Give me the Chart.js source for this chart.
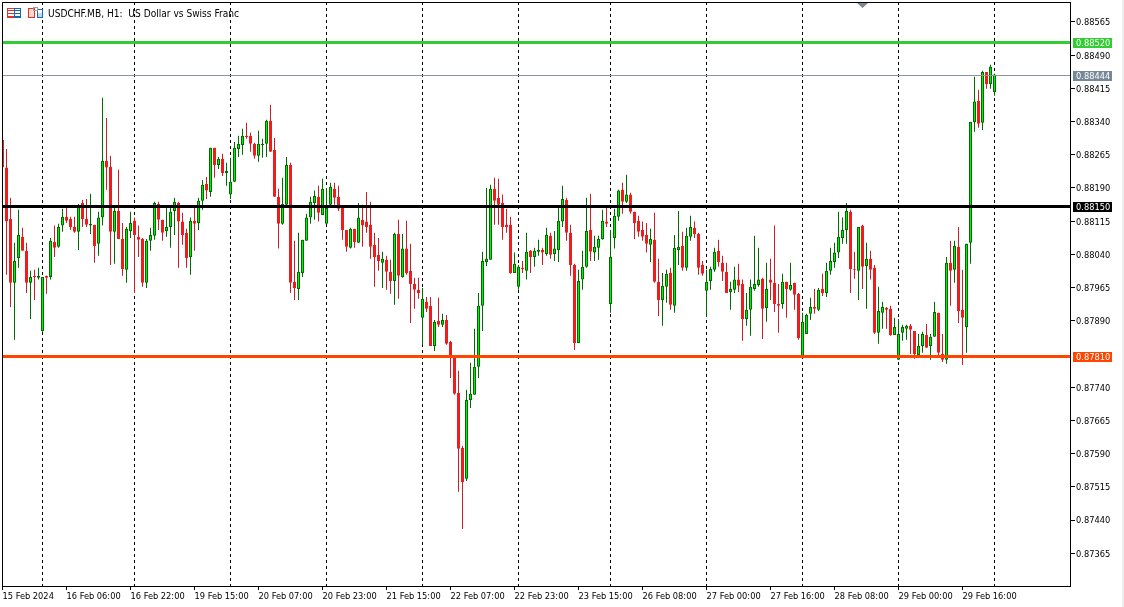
<!DOCTYPE html>
<html>
<head>
<meta charset="utf-8">
<title>USDCHF.MB H1</title>
<script src="https://cdn.jsdelivr.net/npm/chart.js@4"></script>
<style>
  html, body { margin: 0; padding: 0; background: #fff; }
  canvas { display: block; }
</style>
</head>
<body>
<canvas id="chart-1" width="1124" height="607"></canvas>
<script>
// prices are in points (price x 100000), one entry per H1 bar
const opens = [
  88299,88236,88120,87976,88032,88080,88048,87976,87992,87987,87867,87992,
  87989,88068,88057,88105,88125,88120,88102,88091,88156,88120,88105,88107,
  88064,88123,88251,88238,88091,88138,88075,88005,88093,88116,88080,88075,
  87976,88071,88082,88154,88118,88093,88102,88138,88156,88114,88089,88034,
  88116,88111,88161,88199,88181,88281,88242,88256,88224,88175,88204,88278,
  88287,88308,88308,88290,88263,88287,88290,88342,88276,88170,88109,88152,
  88242,87978,87962,87998,88071,88123,88156,88170,88129,88109,88152,88188,
  88170,88145,88095,88055,88098,88066,88118,88114,88107,88062,88039,88021,
  88028,88001,87980,88086,87989,88053,88003,87973,87960,87897,87933,87924,
  87833,87890,87881,87892,87842,87811,87727,87603,87533,87711,87723,87786,
  87924,88023,88028,88188,88168,88156,88107,88107,87998,87967,88010,88003,
  88048,88034,88046,88050,88041,88082,88041,88050,88114,88163,88089,88016,
  87840,87983,88012,88095,88044,88055,88075,88114,87928,88077,88125,88186,
  88159,88175,88136,88116,88095,88084,88062,88073,87978,87937,87967,87998,
  87924,88050,88059,88010,88080,88100,88086,88016,87958,87980,88005,88048,
  88021,88001,87955,87960,87983,87973,87894,87915,87962,87971,87985,87919,
  87983,87976,87928,87928,87978,87960,87976,87951,87811,87860,87906,87921,
  87915,87962,87953,88003,88023,88044,88077,88095,88136,88007,88003,88105,
  88014,88030,88010,87863,87908,87919,87917,87858,87802,87863,87872,87879,
  87867,87813,87833,87858,87833,87854,87908,87815,87802,88021,88005,88057,
  87915,87876,88066,88339,88387,88337,88452,88425,88407
];
const highs = [
  88299,88278,88168,88066,88141,88100,88066,88003,88005,88010,87989,87992,
  88077,88105,88109,88143,88145,88125,88125,88154,88163,88165,88177,88107,
  88136,88394,88348,88263,88147,88231,88111,88102,88136,88123,88105,88077,
  88075,88100,88159,88159,88118,88145,88147,88168,88159,88134,88098,88123,
  88147,88168,88208,88215,88281,88281,88260,88267,88247,88258,88294,88308,
  88324,88337,88315,88292,88319,88301,88344,88378,88303,88188,88213,88260,
  88247,88071,88089,88073,88132,88170,88184,88195,88211,88190,88202,88202,
  88195,88145,88095,88100,88098,88156,88152,88181,88159,88089,88077,88046,
  88037,88028,88089,88118,88086,88116,88064,87987,87987,87964,87944,87944,
  87892,87942,87906,87903,87845,87811,87777,87608,87734,87795,87872,87953,
  88046,88190,88197,88213,88211,88175,88143,88125,88044,88016,88025,88089,
  88050,88055,88073,88055,88100,88089,88093,88147,88195,88168,88107,88019,
  88005,88048,88168,88177,88082,88082,88141,88145,88095,88143,88186,88202,
  88220,88179,88136,88127,88114,88111,88098,88134,88030,87998,88005,88010,
  88084,88138,88091,88100,88127,88114,88089,88025,88005,88012,88055,88073,
  88037,88021,87978,88012,88019,87983,87953,87983,88082,88055,87987,88021,
  88030,88105,87973,87996,87978,88021,87976,87953,87908,87906,87942,87962,
  87964,87996,88021,88055,88066,88136,88123,88156,88141,88046,88102,88107,
  88066,88048,88016,87967,87933,87921,87924,87897,87894,87881,87881,87883,
  87867,87860,87865,87883,87860,87933,87908,87860,88034,88071,88071,88102,
  88005,88064,88339,88441,88412,88455,88452,88468,88448
];
const lows = [
  88236,87994,87921,87847,88010,88048,87953,87894,87937,87983,87865,87951,
  87983,88034,88055,88091,88111,88095,88089,88050,88102,88102,88086,88021,
  88037,88105,88186,88016,88019,88075,87992,87976,88077,87953,88034,87967,
  87964,88048,88073,88095,88071,88080,88055,88084,88010,88062,88010,87994,
  88048,88095,88141,88165,88170,88213,88233,88217,88195,88165,88204,88260,
  88265,88301,88272,88256,88249,88258,88260,88272,88170,88053,88107,88147,
  87953,87937,87937,87989,88071,88109,88118,88114,88129,88109,88145,88152,
  88138,88073,88046,88053,88055,88066,88057,88089,88030,87967,88003,87964,
  87960,87951,87926,87940,87987,87994,87885,87917,87940,87836,87910,87833,
  87822,87876,87876,87836,87761,87723,87504,87420,87528,87693,87723,87761,
  87867,88014,88028,88107,88107,88073,88089,87996,87998,87960,87998,87983,
  87998,88012,88037,88016,88037,88030,88025,88023,88102,88071,87992,87824,
  87840,87960,88010,88025,88025,88028,88073,88102,87908,88053,88116,88132,
  88156,88132,88075,88080,88071,88044,88023,87976,87901,87879,87931,87915,
  87908,88016,88003,88003,88071,88077,87994,87992,87899,87960,88001,88012,
  87980,87953,87915,87953,87955,87845,87879,87856,87958,87967,87849,87888,
  87937,87910,87863,87917,87897,87958,87915,87847,87809,87860,87892,87906,
  87912,87946,87944,87994,88010,88032,88064,88064,87953,87985,87937,87962,
  87917,87983,87860,87838,87872,87872,87856,87858,87802,87845,87847,87815,
  87804,87813,87818,87829,87802,87854,87813,87797,87793,87924,87976,87885,
  87790,87818,88019,88317,88326,88321,88414,88414,88398
];
const closes = [
  88236,88114,87976,88025,88084,88048,87976,87989,87989,87992,87989,87987,
  88071,88055,88102,88125,88116,88102,88091,88147,88120,88107,88109,88059,
  88123,88251,88236,88091,88138,88075,88007,88098,88111,88084,88073,87976,
  88071,88084,88156,88118,88089,88102,88136,88159,88114,88084,88032,88116,
  88109,88161,88197,88184,88281,88242,88256,88224,88229,88204,88281,88290,
  88308,88305,88290,88263,88290,88290,88342,88272,88170,88109,88154,88242,
  87976,87964,88001,88073,88123,88159,88172,88134,88188,88145,88193,88168,
  88143,88095,88057,88098,88068,88123,88105,88102,88057,88034,88025,88030,
  88001,87980,88086,87992,88053,87998,87973,87960,87953,87940,87917,87833,
  87888,87881,87892,87838,87809,87725,87601,87526,87711,87725,87786,87924,
  88025,88030,88188,88161,88152,88102,88102,87998,88019,88012,88007,88046,
  88034,88048,88050,88044,88084,88039,88053,88116,88165,88089,88016,87840,
  87980,88012,88093,88046,88057,88075,88116,88109,88034,88127,88184,88159,
  88175,88136,88111,88091,88080,88064,88075,87978,87937,87969,87996,87926,
  88055,88057,88010,88082,88102,88086,88010,87996,87978,88007,88046,88023,
  88001,87953,87962,87983,87969,87894,87915,87967,87973,87983,87917,87962,
  87976,87928,87924,87978,87962,87971,87949,87851,87888,87903,87921,87917,
  87960,87953,88003,88025,88044,88080,88095,88138,88007,88005,88102,88012,
  88030,88005,87863,87912,87921,87915,87858,87876,87860,87876,87879,87870,
  87815,87833,87860,87829,87854,87910,87818,87802,88021,88003,88059,87912,
  87897,88064,88339,88385,88335,88452,88425,88464,88446
];

const timeLabels = ["15 Feb 2024","16 Feb 06:00","16 Feb 22:00","19 Feb 15:00","20 Feb 07:00","20 Feb 23:00",
  "21 Feb 15:00","22 Feb 07:00","22 Feb 23:00","23 Feb 15:00","26 Feb 08:00","27 Feb 00:00",
  "27 Feb 16:00","28 Feb 08:00","29 Feb 00:00","29 Feb 16:00"];
const timeTickBars = [0,16,32,48,64,80,96,112,128,144,160,176,192,208,224,240];
const dayBreakBars = [10,33,57,81,105,129,152,176,200,224,248];
const priceTicks = [88565,88490,88415,88340,88265,88190,88115,88040,87965,87890,87740,87665,87590,87515,87440,87365];

const levelPrices = [88520, 88150, 87810];
const levelColors = ["#32cd32", "#000000", "#ff4500"];
const lastPrice = 88444;

const GREEN_BODY = "#00f000", GREEN_LINE = "#006b00";
const RED_BODY = "#ee1c1c", RED_LINE = "#c8202a";
const FAMILY = '"DejaVu Sans Condensed", "DejaVu Sans", sans-serif';
const FONT = "9.2px " + FAMILY;

const fmt = v => (v / 100000).toFixed(5);
const isUp = i => closes[i] >= opens[i];

const wicks = highs.map((h, i) => ({ x: i, y: [lows[i], h] }));
const bodies = opens.map((o, i) => ({ x: i, y: [Math.min(o, closes[i]), Math.max(o, closes[i])] }));

function priceTag(ctx, x, y, text, color) {
  ctx.fillStyle = color;
  ctx.fillRect(x, y - 4.5, 39, 10);
  ctx.fillStyle = "#fff";
  ctx.textAlign = "left";
  ctx.textBaseline = "middle";
  ctx.fillText(text, x + 3, y + 1);
}

function noPadding(scale) {
  scale.paddingTop = scale.paddingBottom = scale.paddingLeft = scale.paddingRight = 0;
}

const overlay = {
  id: "overlay",
  beforeDatasetsDraw(chart) {
    const { ctx, chartArea: a, scales: { x } } = chart;
    ctx.save();
    ctx.strokeStyle = "#000";
    ctx.lineWidth = 1;
    ctx.setLineDash([3, 3]);
    dayBreakBars.forEach(b => {
      const px = x.getPixelForValue(b);
      ctx.beginPath();
      ctx.moveTo(px, a.top);
      ctx.lineTo(px, a.bottom);
      ctx.stroke();
    });
    ctx.restore();
  },
  afterDatasetsDraw(chart) {
    const { ctx, chartArea: a, scales: { y } } = chart;
    ctx.save();
    ctx.font = FONT;

    // last price
    const ly = Math.floor(y.getPixelForValue(lastPrice)) + 0.5;
    ctx.strokeStyle = "#8a949e";
    ctx.lineWidth = 1;
    ctx.beginPath();
    ctx.moveTo(a.left, ly);
    ctx.lineTo(a.right, ly);
    ctx.stroke();
    priceTag(ctx, 1073, ly, fmt(lastPrice), "#778899");

    // horizontal levels
    levelPrices.forEach((p, i) => {
      const py = Math.round(y.getPixelForValue(p)) + 0.5;
      ctx.strokeStyle = levelColors[i];
      ctx.lineWidth = 3;
      ctx.beginPath();
      ctx.moveTo(a.left, py);
      ctx.lineTo(a.right, py);
      ctx.stroke();
      priceTag(ctx, 1073, py, fmt(p), levelColors[i]);
    });

    // frame
    ctx.strokeStyle = "#000";
    ctx.lineWidth = 1;
    ctx.strokeRect(2.5, 2.5, 1068, 584);

    // window edge
    ctx.fillStyle = "#f0f0f0";
    ctx.fillRect(1122, 0, 2, 607);

    // small marker on the top edge
    ctx.fillStyle = "#7d8a96";
    ctx.beginPath();
    ctx.moveTo(857, 3);
    ctx.lineTo(868, 3);
    ctx.lineTo(862.5, 8);
    ctx.fill();

    // header icons
    ctx.lineWidth = 1;
    ctx.strokeStyle = "#e0332c";
    ctx.strokeRect(7.5, 8.5, 7, 9);
    ctx.strokeRect(28.5, 8.5, 6, 9);
    ctx.fillStyle = "#fbd8cf";
    ctx.fillRect(29, 9, 5, 8);
    ctx.beginPath();
    [10.5, 13.5, 16.5].forEach(ty => { ctx.moveTo(8, ty); ctx.lineTo(15, ty); });
    ctx.stroke();
    ctx.strokeStyle = "#1268b3";
    ctx.strokeRect(14.5, 8.5, 6, 9);
    ctx.strokeRect(37.5, 9.5, 5, 8);
    ctx.fillStyle = "#bcdcf2";
    ctx.fillRect(38, 13, 4, 4);
    ctx.beginPath();
    [10.5, 13.5, 16.5].forEach(ty => { ctx.moveTo(15, ty); ctx.lineTo(20, ty); });
    ctx.stroke();
    ctx.strokeStyle = "#9aa0a6";
    ctx.strokeRect(33.5, 7.5, 4, 3);

    // header text
    ctx.font = "10.1px " + FAMILY;
    ctx.fillStyle = "#000";
    ctx.textAlign = "left";
    ctx.textBaseline = "middle";
    ctx.fillText("USDCHF.MB, H1:  US Dollar vs Swiss Franc", 48, 14);
    ctx.restore();
  }
};

new Chart("chart-1", {
  type: "bar",
  data: {
    datasets: [{
      // bodies on top of wicks
      data: bodies,
      barThickness: 3,
      grouped: false,
      order: 1,
      borderWidth: 1,
      borderSkipped: false,
      inflateAmount: 0,
      backgroundColor: bodies.map((b, i) => isUp(i) ? GREEN_BODY : RED_BODY),
      borderColor: bodies.map((b, i) => isUp(i) ? GREEN_LINE : RED_BODY)
    }, {
      data: wicks,
      barThickness: 1,
      grouped: false,
      order: 2,
      borderWidth: 0,
      inflateAmount: 0,
      backgroundColor: wicks.map((w, i) => isUp(i) ? GREEN_LINE : RED_LINE)
    }]
  },
  options: {
    responsive: false,
    animation: false,
    layout: { padding: { left: 2, top: 2, right: 0, bottom: 0 } },
    plugins: { legend: { display: false }, tooltip: { enabled: false } },
    scales: {
      x: {
        type: "linear",
        offset: false,
        min: -0.125,
        max: 266.875,
        afterFit(scale) { scale.height = 21; noPadding(scale); },
        afterBuildTicks(scale) { scale.ticks = timeTickBars.map(v => ({ value: v })); },
        grid: { offset: false, drawOnChartArea: false, drawTicks: true, tickLength: 4, tickColor: "#000" },
        border: { display: false },
        ticks: {
          autoSkip: false,
          maxRotation: 0,
          align: "start",
          padding: 1,
          color: "#000",
          font: { family: FAMILY, size: 9.2 },
          callback: (v, i) => timeLabels[i]
        }
      },
      y: {
        position: "right",
        min: 87291,
        max: 88610,
        afterFit(scale) { scale.width = 54; noPadding(scale); },
        afterBuildTicks(scale) { scale.ticks = priceTicks.map(v => ({ value: v })); },
        grid: { drawOnChartArea: false, drawTicks: true, tickLength: 5, tickColor: "#000" },
        border: { display: false },
        ticks: {
          autoSkip: false,
          padding: 1,
          labelOffset: 1,
          color: "#000",
          font: { family: FAMILY, size: 9.2 },
          callback: (v, i) => fmt(priceTicks[i])
        }
      }
    }
  },
  plugins: [overlay]
});
</script>
</body>
</html>
